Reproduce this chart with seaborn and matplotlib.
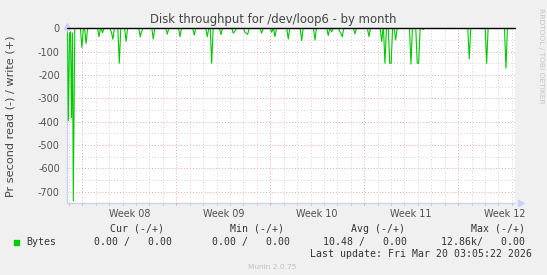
import numpy as np
import pandas as pd
import matplotlib
matplotlib.use("Agg")
import matplotlib.pyplot as plt
import seaborn as sns
from matplotlib.transforms import blended_transform_factory

# ---------------- data ----------------
title = "Disk throughput for /dev/loop6 - by month"
ylabel = "Pr second read (-) / write (+)"
side_text = "RRDTOOL / TOBI OETIKER"
footer = "Munin 2.0.75"

week_starts = [0, 7, 14, 21, 28]            # Mondays (days)
week_labels = ["Week 08", "Week 09", "Week 10", "Week 11", "Week 12"]
yticks = [0, -100, -200, -300, -400, -500, -600, -700]
ytick_labels = ["0", "-100", "-200", "-300", "-400", "-500", "-600", "-700"]

# read spikes: day offset from Monday of week 08, value (negative = read)
spike_days = [-1.10, -1.051, -0.95, -0.88, -0.812, -0.74, -0.678,
              -0.037, 0.276, 1.237, 1.498, 2.168, 2.273, 2.750, 3.256,
              4.314, 4.404, 5.283, 6.326, 7.273, 8.338, 9.307, 9.635,
              10.328, 11.244, 11.371, 12.116, 12.317, 13.361, 14.106,
              14.352, 15.343, 16.341, 17.332, 18.323, 18.577, 19.195,
              19.367, 20.313, 21.356, 22.303, 22.548, 22.906, 23.010,
              23.346, 24.486, 24.955, 25.060, 25.402, 28.830, 30.127,
              31.565]
spike_read = [-30, -396, -20, -15, -383, -20, -740,
              -82, -65, -36, -19, -18, -47, -150, -56,
              -36, -15, -46, -25, -36, -29, -36, -150,
              -27, -21, -12, -17, -26, -21, -17,
              -36, -46, -53, -50, -31, -15, -15,
              -36, -24, -36, -56, -150, -150, -150,
              -50, -153, -150, -150, -5, -131, -150,
              -171]

legend_name = "Bytes"
col_headers = ["Cur (-/+)", "Min (-/+)", "Avg (-/+)", "Max (-/+)"]
col_values = ["0.00 /   0.00", "0.00 /   0.00", "10.48 /   0.00", "12.86k/   0.00"]
last_update = "Last update: Fri Mar 20 03:05:22 2026"

# ---------------- build line ----------------
w = 0.11
xs, ys = [], []
n = len(spike_days)
for i, (d, v) in enumerate(zip(spike_days, spike_read)):
    if i == 0 or spike_days[i - 1] < d - 2 * w:
        xs.append(d - w); ys.append(0)
    xs.append(d); ys.append(v)
    if i == n - 1 or spike_days[i + 1] > d + 2 * w:
        xs.append(d + w); ys.append(0)
xs.append(32.3); ys.append(0)
df = pd.DataFrame({"day": xs, "read": ys})

# ---------------- figure ----------------
sns.set_style("white")
plt.rcParams["font.family"] = ["DejaVu Sans"]
W, H = 547, 275
fig = plt.figure(figsize=(W / 100, H / 100), dpi=100, facecolor="#F0F0F0")

L, R, T, B = 67.3, 515.0, 28.3, 203.3
ax = fig.add_axes([L / W, 1 - B / H, (R - L) / W, (B - T) / H])
ax.set_facecolor("white")

xmin, xmax = -1.125, 32.24
ax.set_xlim(xmin, xmax)
ax.set_ylim(-750, 0)

# grids
red = "#E8A8A8"
gray = "#D4D4D4"
for d in np.arange(-1, 33):
    if d in week_starts:
        continue
    ax.axvline(d, color=gray, lw=0.7, ls=(0, (1, 2)), zorder=0.5)
for d in week_starts:
    ax.axvline(d, color=red, lw=0.7, ls=(0, (1, 2)), zorder=0.6)
for yv in np.arange(-50, -751, -50):
    if yv % 100 == 0:
        ax.axhline(yv, color=red, lw=0.7, ls=(0, (1, 2)), zorder=0.6)
    else:
        ax.axhline(yv, color=gray, lw=0.7, ls=(0, (1, 2)), zorder=0.5)

sns.lineplot(data=df, x="day", y="read", ax=ax, color="#00CC00", lw=0.8,
             estimator=None, sort=False, legend=False, zorder=2)
ax.axhline(0, color="black", lw=1.0, zorder=3, clip_on=False)

for s in ax.spines.values():
    s.set_visible(False)
axis_col = "#D0D0F0"
ax.plot([xmin, xmin], [-750, 0], color=axis_col, lw=1, clip_on=False, zorder=1)
ax.plot([xmin, xmax], [-750, -750], color=axis_col, lw=1, clip_on=False, zorder=1)
ax.plot([xmin], [8], marker="^", color="#C8D0FF", ms=4, clip_on=False)
ax.plot([xmax + 0.45], [-750], marker=">", color="#C8D0FF", ms=4, clip_on=False)

ax.set_xticks([])
ax.set_yticks(yticks)
ax.set_yticklabels(ytick_labels, fontsize=6.9, color="#505050")
ax.tick_params(axis="y", length=0, pad=5.4)
ax.set_xlabel("")
ax.set_ylabel("")

# small ticks below x axis
trans = blended_transform_factory(ax.transData, ax.transAxes)
for d in np.arange(-1, 33):
    c = red if d in week_starts else "#C8C8C8"
    ax.plot([d, d], [0, -0.012], color=c, lw=0.7, transform=trans, clip_on=False)

for d, lab in zip(week_starts, week_labels):
    ax.text(d + 3.5, -0.06, lab, transform=trans, ha="center", va="center",
            fontsize=6.9, color="#505050")

def fx(px):
    return px / W

def fy(py):
    return 1 - py / H

txt = "#333333"
fig.text(0.5, fy(19.5), title, ha="center", va="center", fontsize=8.4, color="#444444")
fig.text(fx(10.5), fy(116), ylabel, ha="center", va="center", rotation=90,
         fontsize=8.1, color="#444444")
fig.text(fx(541.5), fy(55.5), side_text, ha="center", va="center", rotation=270,
         fontsize=5.4, color="#C4C4C4")

mono = "DejaVu Sans Mono"
fs = 7.1
header_x = [110.5, 230.4, 351.0, 471.0]
value_x = [94.5, 212.0, 323.0, 440.7]
for hx, h in zip(header_x, col_headers):
    fig.text(fx(hx), fy(228.9), h, ha="left", va="center", family=mono, fontsize=fs, color=txt)
for vx, v in zip(value_x, col_values):
    fig.text(fx(vx), fy(242), v, ha="left", va="center", family=mono, fontsize=fs, color=txt)
fig.patches.append(plt.Rectangle((fx(13.9), fy(244.8)), 5.2 / W, 5.2 / H,
                                 transform=fig.transFigure, color="#00CC00"))
fig.text(fx(26), fy(242), legend_name, ha="left", va="center", family=mono, fontsize=fs, color=txt)
fig.text(fx(310), fy(254.3), last_update, ha="left", va="center", family=mono, fontsize=fs, color=txt)
fig.text(fx(272), fy(266.8), footer, ha="center", va="center", fontsize=5.3, color="#C0C0C0")

fig.savefig("out.png", dpi=100, facecolor="#F0F0F0")
